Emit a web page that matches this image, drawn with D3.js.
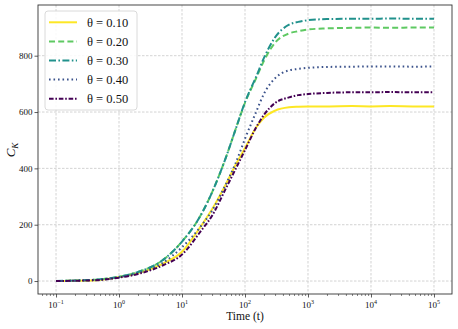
<!DOCTYPE html>
<html>
<head>
<meta charset="utf-8">
<script src="https://cdn.jsdelivr.net/npm/d3@7"></script>
<style>
  body { margin: 0; background: #fff; }
  svg { display: block; font-family: "Liberation Serif", "DejaVu Serif", serif; }
</style>
</head>
<body>
<div id="chart"></div>
<script>
// time points (log axis)
var times = [0.1, 0.2, 0.5, 1, 2, 5, 10, 20, 30, 50, 70, 100, 150, 200, 300, 500, 700, 1000, 2000, 5000, 10000, 20000, 50000, 100000];

var thetaLabels = ["0.10", "0.20", "0.30", "0.40", "0.50"];

var ck010 = [0, 1, 4, 14, 28, 62, 104, 195, 255, 345, 410, 472, 545, 580, 605, 617, 619, 620, 620, 621, 620, 621, 620, 620];
var ck020 = [0, 2, 6, 15, 32, 75, 140, 235, 315, 440, 535, 633, 720, 782, 846, 879, 887, 893, 897, 899, 900, 899, 900, 900];
var ck030 = [0, 2, 6, 15, 32, 75, 140, 235, 315, 440, 535, 635, 725, 792, 865, 910, 920, 926, 930, 931, 931, 932, 931, 931];
var ck040 = [0, 1, 5, 13, 28, 65, 120, 195, 250, 345, 415, 505, 600, 665, 720, 748, 753, 757, 760, 761, 762, 762, 761, 762];
var ck050 = [0, 1, 4, 12, 25, 56, 94, 178, 232, 330, 395, 465, 545, 590, 632, 652, 660, 664, 668, 670, 670, 671, 670, 670];

var colors = ["#fde725", "#5ec962", "#21918c", "#3b528b", "#440154"];
var dashes = [null, "6,3.2", "7,2.4,1.6,2.4", "1.6,2.9", "4.6,1.8,1.6,1.8"];
var seriesVals = [ck010, ck020, ck030, ck040, ck050];

var W = 458, H = 329;
var pLeft = 38, pRight = 452, pTop = 5, pBottom = 294;

var svg = d3.select("#chart").append("svg")
    .attr("width", W)
    .attr("height", H);

var x = d3.scaleLog()
    .domain([Math.pow(10, -1.286), Math.pow(10, 5.286)])
    .range([pLeft, pRight]);

var y = d3.scaleLinear()
    .domain([-46, 980])
    .range([pBottom, pTop]);

var majorX = [0.1, 1, 10, 100, 1000, 10000, 100000];
var minorX = [];
for (var e = -2; e <= 5; e++) {
    for (var m = 2; m <= 9; m++) {
        var v = m * Math.pow(10, e);
        if (v > x.domain()[0] && v < x.domain()[1]) minorX.push(v);
    }
}
var yTicks = [0, 200, 400, 600, 800];

// grid
var grid = svg.append("g");
grid.selectAll(".gx").data(majorX).enter().append("line")
    .attr("x1", function(d) { return x(d); })
    .attr("x2", function(d) { return x(d); })
    .attr("y1", pTop).attr("y2", pBottom)
    .attr("stroke", "#c8c8c8").attr("stroke-width", 0.8)
    .attr("stroke-dasharray", "2.5,1.5");
grid.selectAll(".gy").data(yTicks).enter().append("line")
    .attr("x1", pLeft).attr("x2", pRight)
    .attr("y1", function(d) { return y(d); })
    .attr("y2", function(d) { return y(d); })
    .attr("stroke", "#c8c8c8").attr("stroke-width", 0.8)
    .attr("stroke-dasharray", "2.5,1.5");

// axes
var xAxis = svg.append("g")
    .attr("transform", "translate(0," + pBottom + ")")
    .call(d3.axisBottom(x).tickValues(majorX).tickSize(3.5).tickFormat(""));
xAxis.select(".domain").remove();
xAxis.selectAll(".tick line").attr("stroke", "#333").attr("stroke-width", 0.8);

var xMinor = svg.append("g")
    .attr("transform", "translate(0," + pBottom + ")")
    .call(d3.axisBottom(x).tickValues(minorX).tickSize(2).tickFormat(""));
xMinor.select(".domain").remove();
xMinor.selectAll(".tick line").attr("stroke", "#333").attr("stroke-width", 0.6);

// x tick labels with superscript exponents
var xl = svg.append("g");
majorX.forEach(function(d) {
    var t = xl.append("text")
        .attr("x", x(d))
        .attr("y", pBottom + 14)
        .attr("text-anchor", "middle")
        .attr("font-size", 9)
        .attr("fill", "#111");
    t.append("tspan").text("10");
    t.append("tspan")
        .attr("dy", -4)
        .attr("font-size", 6)
        .text(String(Math.round(Math.log10(d))).replace("-", "\u2212"));
});

var yAxis = svg.append("g")
    .attr("transform", "translate(" + pLeft + ",0)")
    .call(d3.axisLeft(y).tickValues(yTicks).tickSize(3.5).tickPadding(2));
yAxis.select(".domain").remove();
yAxis.selectAll(".tick line").attr("stroke", "#333").attr("stroke-width", 0.8);
yAxis.selectAll(".tick text")
    .attr("font-size", 9)
    .attr("fill", "#111")
    .attr("font-family", "Liberation Serif, serif");

// lines
var line = d3.line()
    .x(function(d) { return x(d[0]); })
    .y(function(d) { return y(d[1]); })
    .curve(d3.curveMonotoneX);

var plot = svg.append("g");
seriesVals.forEach(function(vals, i) {
    var pts = times.map(function(t, j) { return [t, vals[j]]; });
    plot.append("path")
        .attr("d", line(pts))
        .attr("fill", "none")
        .attr("stroke", colors[i])
        .attr("stroke-width", 2)
        .attr("stroke-dasharray", dashes[i]);
});

// frame
svg.append("rect")
    .attr("x", pLeft).attr("y", pTop)
    .attr("width", pRight - pLeft).attr("height", pBottom - pTop)
    .attr("fill", "none")
    .attr("stroke", "#333")
    .attr("stroke-width", 0.9);

// legend
var lg = svg.append("g");
lg.append("rect")
    .attr("x", 45).attr("y", 11)
    .attr("width", 92).attr("height", 99)
    .attr("rx", 3)
    .attr("fill", "#fff").attr("fill-opacity", 0.85)
    .attr("stroke", "#d6d6d6").attr("stroke-width", 0.9);
thetaLabels.forEach(function(lab, i) {
    var cy = 22.3 + i * 19.1;
    lg.append("line")
        .attr("x1", 49).attr("x2", 77)
        .attr("y1", cy).attr("y2", cy)
        .attr("stroke", colors[i])
        .attr("stroke-width", 2)
        .attr("stroke-dasharray", dashes[i]);
    lg.append("text")
        .attr("x", 87).attr("y", cy + 4.3)
        .attr("font-size", 12.5)
        .attr("fill", "#111")
        .text("\u03b8 = " + lab);
});

// axis labels
svg.append("text")
    .attr("x", (pLeft + pRight) / 2)
    .attr("y", 320)
    .attr("text-anchor", "middle")
    .attr("font-size", 11.5)
    .attr("fill", "#111")
    .text("Time (t)");

var yl = svg.append("text")
    .attr("transform", "translate(15,150) rotate(-90)")
    .attr("text-anchor", "middle")
    .attr("font-size", 13)
    .attr("fill", "#111");
yl.append("tspan").attr("font-style", "italic").text("C");
yl.append("tspan").attr("font-style", "italic").attr("font-size", 9).attr("dy", 2.5).text("K");
</script>
</body>
</html>
